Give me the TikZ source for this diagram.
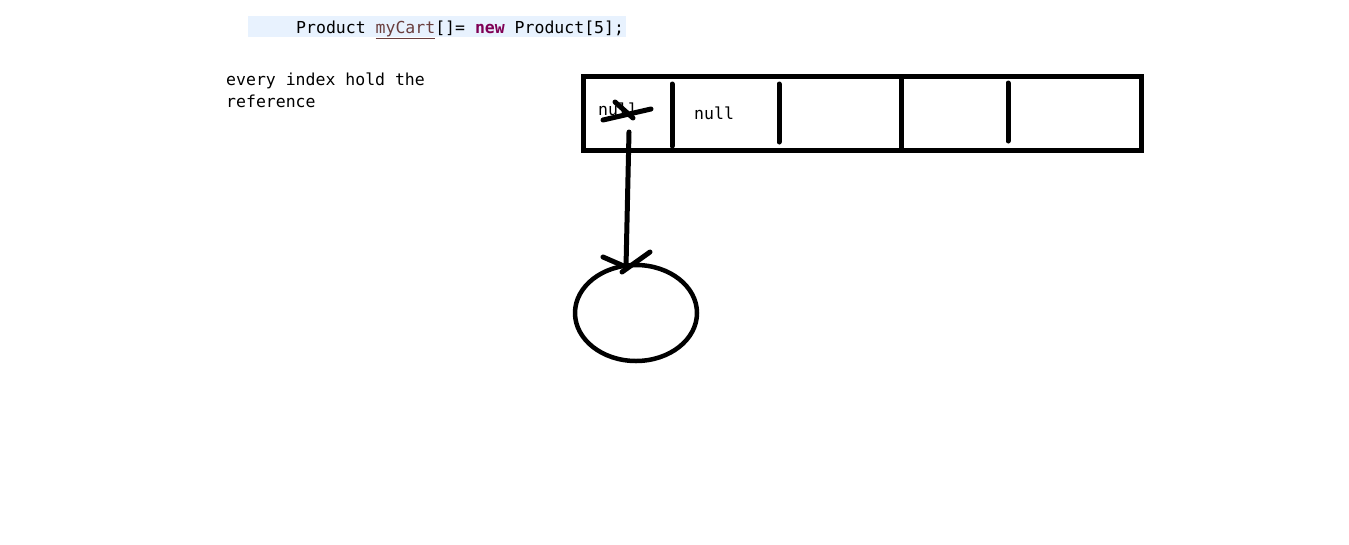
\documentclass[tikz,border=0pt]{standalone}
\usepackage{fontspec}
\setmonofont{DejaVu Sans Mono}
\usetikzlibrary{shapes.geometric}
\definecolor{hl}{HTML}{E8F2FE}
\definecolor{kw}{HTML}{7F0055}
\definecolor{lv}{HTML}{6A3E3E}
\tikzset{
  txt/.style={inner sep=0pt, anchor=base west, font=\ttfamily\fontsize{16.5}{20}\selectfont},
  pen/.style={line width=5pt, line cap=round},
  frame/.style={line width=5pt},
}
\begin{document}
\begin{tikzpicture}[x=1pt,y=-1pt]
\useasboundingbox (0,0) rectangle (1349,544);
% code line
\fill[hl] (248,16) rectangle (626,37);
\node[txt] (code) at (296,33) {Product \textcolor{lv}{\underline{myCart}}[]= \textcolor{kw}{\bfseries new} Product[5];};
% comment
\node[txt] (c1) at (226,85) {every index hold the};
\node[txt] (c2) at (226,107) {reference};
% array
\draw[frame] (583,76) rectangle (1141,150);
\draw[pen] (672,84) -- (672,146);
\draw[pen] (779,84) -- (779,142);
\draw[frame] (901,78) -- (901,150);
\draw[pen] (1008,83) -- (1008,141);
\node[txt] (n1) at (598,115) {null};
\node[txt] (n2) at (694,119) {null};
% cross on first null
\draw[pen] (603,120) -- (651,109);
\draw[pen] (615,102) -- (633,118);
% object
\node[ellipse, draw, line width=4.5pt, minimum width=122pt, minimum height=96pt, inner sep=0pt] (obj) at (636,313) {};
\coordinate (src) at (629,132);
\coordinate (tip) at (626,267);
\draw[pen] (src) -- (tip);
\draw[pen] (603,257) -- (tip);
\draw[pen] (650,252) -- (622,272);
\end{tikzpicture}
\end{document}
